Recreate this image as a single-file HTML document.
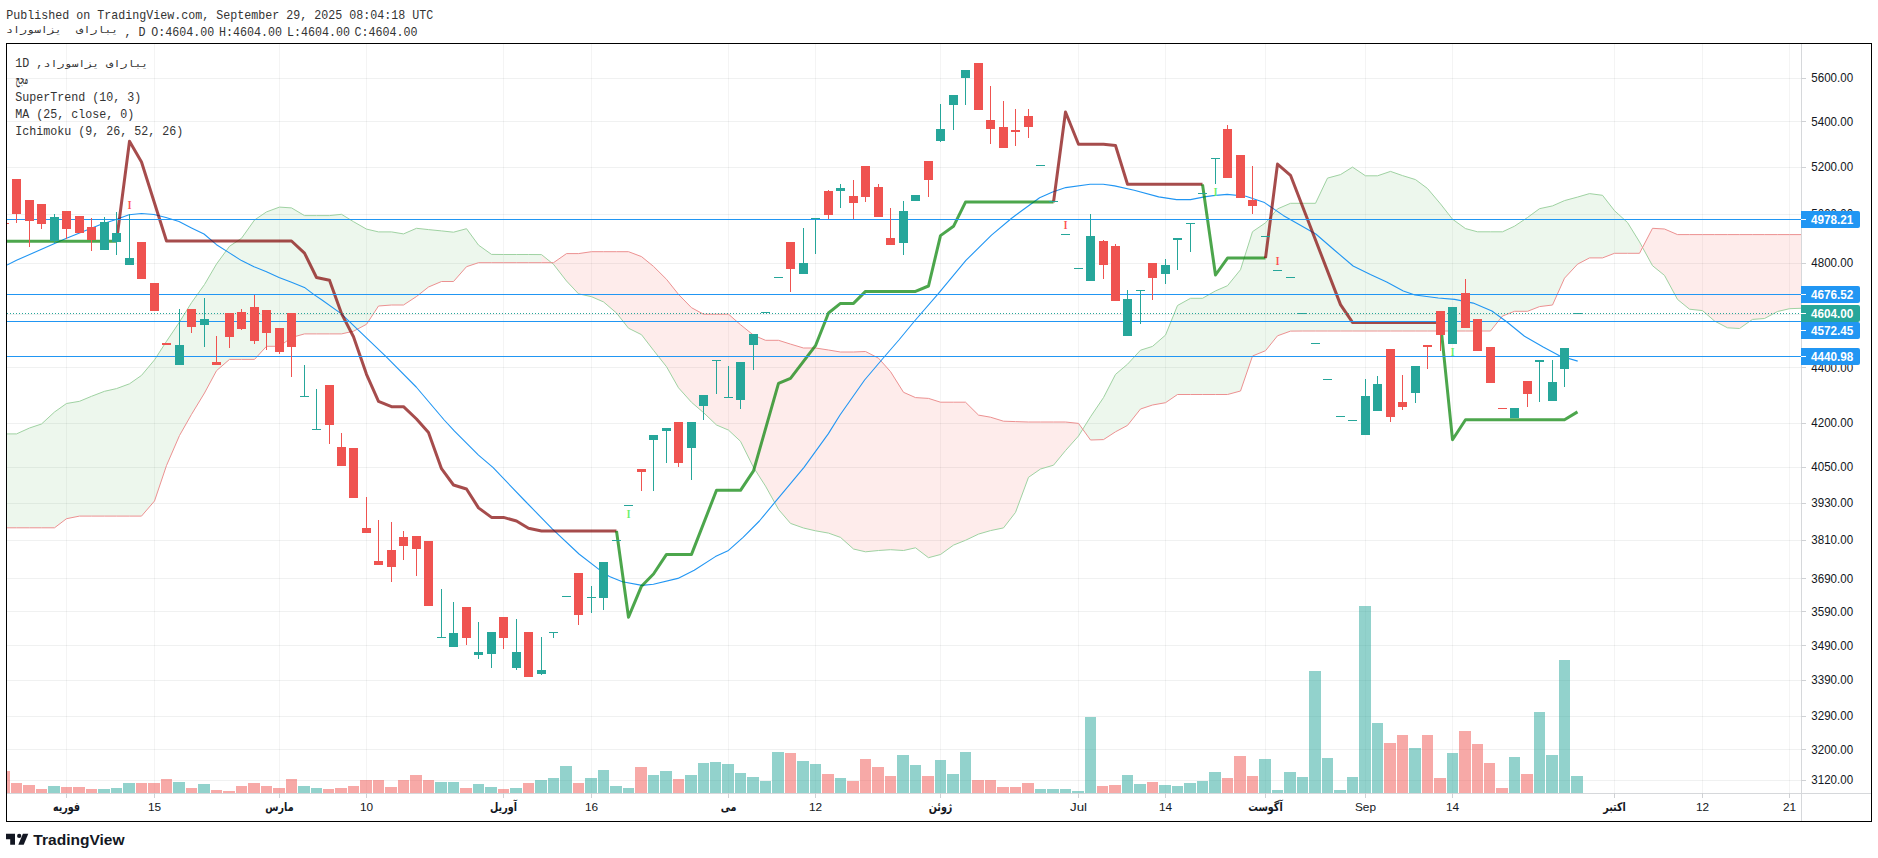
<!DOCTYPE html>
<html lang="fa"><head><meta charset="utf-8"><title>TradingView chart</title><style>html,body{margin:0;padding:0;background:#fff}body{width:1878px;height:858px;overflow:hidden;position:relative}</style></head><body>
<svg width="1878" height="858" viewBox="0 0 1878 858" style="position:absolute;left:0;top:0">
<defs><clipPath id="cp"><rect x="7" y="44" width="1794" height="749"/></clipPath></defs>
<rect x="0" y="0" width="1878" height="858" fill="#fff"/>
<path d="M66.5 44V793M154.5 44V793M279.5 44V793M366.5 44V793M503.5 44V793M591.5 44V793M728.5 44V793M815.5 44V793M940.5 44V793M1078.5 44V793M1165.5 44V793M1265.5 44V793M1365.5 44V793M1452.5 44V793M1614.5 44V793M1702.5 44V793M1789.5 44V793" stroke="rgb(30,45,40)" stroke-opacity="0.05" stroke-width="1" fill="none" shape-rendering="crispEdges"/>
<path d="M7 78.5H1801M7 121.5H1801M7 167.5H1801M7 214.5H1801M7 263.5H1801M7 314.5H1801M7 367.5H1801M7 423.5H1801M7 467.5H1801M7 503.5H1801M7 540.5H1801M7 578.5H1801M7 611.5H1801M7 645.5H1801M7 680.5H1801M7 716.5H1801M7 749.5H1801M7 780.5H1801" stroke="rgb(30,45,40)" stroke-opacity="0.065" stroke-width="1" fill="none" shape-rendering="crispEdges"/>
<g clip-path="url(#cp)">
<path d="M11 783h11v10h-11zM23 785h12v8h-12zM36 789h11v4h-11zM61 787h11v6h-11zM73 787h12v6h-12zM86 789h11v4h-11zM136 783h11v10h-11zM148 783h12v10h-12zM161 779h11v14h-11zM186 788h11v5h-11zM211 790h11v3h-11zM223 791h12v2h-12zM236 786h11v7h-11zM248 783h12v10h-12zM261 786h11v7h-11zM273 788h12v5h-12zM286 779h11v14h-11zM323 789h11v4h-11zM335 788h12v5h-12zM348 786h11v7h-11zM360 780h12v13h-12zM373 780h11v13h-11zM385 787h12v6h-12zM398 780h11v13h-11zM410 775h12v18h-12zM423 780h11v13h-11zM460 788h12v5h-12zM498 789h11v4h-11zM523 783h11v10h-11zM573 783h11v10h-11zM635 767h12v26h-12zM673 779h11v14h-11zM785 753h11v40h-11zM822 774h12v19h-12zM847 781h12v12h-12zM860 759h11v34h-11zM872 767h12v26h-12zM885 776h11v17h-11zM922 776h12v17h-12zM972 780h12v13h-12zM985 780h11v13h-11zM997 787h12v6h-12zM1010 787h11v6h-11zM1022 783h12v10h-12zM1097 786h11v7h-11zM1109 785h12v8h-12zM1147 782h11v11h-11zM1222 778h11v15h-11zM1234 756h12v37h-12zM1247 776h11v17h-11zM1384 743h12v50h-12zM1397 735h11v58h-11zM1422 735h11v58h-11zM1434 778h12v15h-12zM1459 731h12v62h-12zM1472 744h11v49h-11zM1484 763h11v30h-11zM1496 788h12v5h-12zM1521 774h12v19h-12zM7 771h3v22h-3z" fill="#ef5350" fill-opacity="0.5" shape-rendering="crispEdges"/>
<path d="M48 786h12v7h-12zM98 789h12v4h-12zM111 788h11v5h-11zM123 783h12v10h-12zM173 782h12v11h-12zM198 784h12v9h-12zM298 786h12v7h-12zM311 788h11v5h-11zM435 782h12v11h-12zM448 782h11v11h-11zM473 784h11v9h-11zM485 787h12v6h-12zM510 788h12v5h-12zM535 780h12v13h-12zM548 778h11v15h-11zM560 766h12v27h-12zM585 778h12v15h-12zM598 770h11v23h-11zM610 786h12v7h-12zM623 788h11v5h-11zM648 775h11v18h-11zM660 771h12v22h-12zM685 775h12v18h-12zM698 763h11v30h-11zM710 762h11v31h-11zM722 764h12v29h-12zM735 773h11v20h-11zM747 777h12v16h-12zM760 781h11v12h-11zM772 752h12v41h-12zM797 761h12v32h-12zM810 764h11v29h-11zM835 778h11v15h-11zM897 755h12v38h-12zM910 765h11v28h-11zM935 760h11v33h-11zM947 774h12v19h-12zM960 752h11v41h-11zM1035 789h11v4h-11zM1047 789h12v4h-12zM1060 789h11v4h-11zM1072 791h12v2h-12zM1085 717h11v76h-11zM1122 775h11v18h-11zM1134 784h12v9h-12zM1159 785h12v8h-12zM1172 786h11v7h-11zM1184 783h12v10h-12zM1197 781h11v12h-11zM1209 772h12v21h-12zM1259 759h12v34h-12zM1272 790h11v3h-11zM1284 772h12v21h-12zM1297 777h11v16h-11zM1309 671h12v122h-12zM1322 758h11v35h-11zM1334 790h12v3h-12zM1347 777h11v16h-11zM1359 606h12v187h-12zM1372 723h11v70h-11zM1409 748h12v45h-12zM1447 753h11v40h-11zM1509 757h11v36h-11zM1534 712h11v81h-11zM1546 755h12v38h-12zM1559 660h11v133h-11zM1571 776h12v17h-12z" fill="#26a69a" fill-opacity="0.5" shape-rendering="crispEdges"/>
<path d="M7.0 433.9L16.5 433.9L16.5 527.8L7.0 527.8zM16.5 433.9L29.5 428.0L29.5 527.8L16.5 527.8zM29.5 428.0L41.5 424.0L41.5 527.8L29.5 527.8zM41.5 424.0L54.5 412.0L54.5 527.8L41.5 527.8zM54.5 412.0L66.5 403.5L66.5 518.7L54.5 527.8zM66.5 403.5L79.5 401.3L79.5 516.1L66.5 518.7zM79.5 401.3L91.5 396.3L91.5 516.1L79.5 516.1zM91.5 396.3L104.5 391.3L104.5 516.1L91.5 516.1zM104.5 391.3L116.5 388.6L116.5 516.1L104.5 516.1zM116.5 388.6L129.5 383.8L129.5 516.1L116.5 516.1zM129.5 383.8L141.5 375.4L141.5 516.1L129.5 516.1zM141.5 375.4L154.5 359.9L154.5 501.0L141.5 516.1zM154.5 359.9L166.5 341.3L166.5 465.5L154.5 501.0zM166.5 341.3L179.5 322.0L179.5 435.5L166.5 465.5zM179.5 322.0L191.5 302.7L191.5 414.4L179.5 435.5zM191.5 302.7L204.5 284.5L204.5 393.0L191.5 414.4zM204.5 284.5L216.5 264.0L216.5 370.7L204.5 393.0zM216.5 264.0L229.5 246.3L229.5 359.4L216.5 370.7zM229.5 246.3L241.5 238.3L241.5 359.4L229.5 359.4zM241.5 238.3L254.5 220.0L254.5 359.4L241.5 359.4zM254.5 220.0L266.5 211.9L266.5 346.3L254.5 359.4zM266.5 211.9L279.5 207.1L279.5 346.3L266.5 346.3zM279.5 207.1L291.5 207.9L291.5 337.5L279.5 346.3zM291.5 207.9L304.5 215.6L304.5 333.9L291.5 337.5zM304.5 215.6L316.5 215.6L316.5 333.9L304.5 333.9zM316.5 215.6L329.5 215.6L329.5 333.9L316.5 333.9zM329.5 215.6L341.5 214.3L341.5 333.9L329.5 333.9zM341.5 214.3L353.5 221.7L353.5 331.2L341.5 333.9zM353.5 221.7L366.5 229.1L366.5 324.3L353.5 331.2zM366.5 229.1L378.5 231.9L378.5 306.0L366.5 324.3zM378.5 231.9L391.5 231.9L391.5 305.0L378.5 306.0zM391.5 231.9L403.5 233.9L403.5 305.0L391.5 305.0zM403.5 233.9L416.5 228.3L416.5 296.5L403.5 305.0zM416.5 228.3L428.5 229.6L428.5 287.0L416.5 296.5zM428.5 229.6L441.5 230.9L441.5 281.5L428.5 287.0zM441.5 230.9L453.5 232.2L453.5 281.5L441.5 281.5zM453.5 232.2L466.5 228.7L466.5 266.7L453.5 281.5zM466.5 228.7L478.5 245.1L478.5 262.7L466.5 266.7zM478.5 245.1L491.5 254.4L491.5 262.7L478.5 262.7zM491.5 254.4L503.5 254.5L503.5 262.7L491.5 262.7zM503.5 254.5L516.5 254.5L516.5 262.7L503.5 262.7zM516.5 254.5L528.5 254.5L528.5 262.7L516.5 262.7zM528.5 254.5L541.5 254.6L541.5 262.7L528.5 262.7zM1078.5 436.0L1090.5 416.8L1090.5 440.0L1078.5 423.4zM1090.5 416.8L1103.5 397.6L1103.5 439.6L1090.5 440.0zM1103.5 397.6L1115.5 374.4L1115.5 431.8L1103.5 439.6zM1115.5 374.4L1127.5 364.2L1127.5 425.4L1115.5 431.8zM1127.5 364.2L1140.5 350.2L1140.5 409.0L1127.5 425.4zM1140.5 350.2L1152.5 346.4L1152.5 405.0L1140.5 409.0zM1152.5 346.4L1165.5 335.1L1165.5 402.7L1152.5 405.0zM1165.5 335.1L1177.5 305.5L1177.5 394.5L1165.5 402.7zM1177.5 305.5L1190.5 298.3L1190.5 394.5L1177.5 394.5zM1190.5 298.3L1202.5 298.3L1202.5 394.5L1190.5 394.5zM1202.5 298.3L1215.5 290.9L1215.5 394.5L1202.5 394.5zM1215.5 290.9L1227.5 285.7L1227.5 394.5L1215.5 394.5zM1227.5 285.7L1240.5 269.7L1240.5 391.0L1227.5 394.5zM1240.5 269.7L1252.5 231.7L1252.5 356.0L1240.5 391.0zM1252.5 231.7L1265.5 222.8L1265.5 350.7L1252.5 356.0zM1265.5 222.8L1277.5 208.9L1277.5 335.8L1265.5 350.7zM1277.5 208.9L1290.5 203.3L1290.5 331.1L1277.5 335.8zM1290.5 203.3L1302.5 203.3L1302.5 331.0L1290.5 331.1zM1302.5 203.3L1315.5 203.3L1315.5 331.0L1302.5 331.0zM1315.5 203.3L1327.5 178.1L1327.5 331.0L1315.5 331.0zM1327.5 178.1L1340.5 174.6L1340.5 331.0L1327.5 331.0zM1340.5 174.6L1352.5 167.1L1352.5 331.0L1340.5 331.0zM1352.5 167.1L1365.5 175.8L1365.5 331.0L1352.5 331.0zM1365.5 175.8L1377.5 175.8L1377.5 331.0L1365.5 331.0zM1377.5 175.8L1390.5 171.4L1390.5 331.0L1377.5 331.0zM1390.5 171.4L1402.5 175.6L1402.5 331.0L1390.5 331.0zM1402.5 175.6L1415.5 179.6L1415.5 331.0L1402.5 331.0zM1415.5 179.6L1427.5 188.5L1427.5 331.0L1415.5 331.0zM1427.5 188.5L1440.5 203.9L1440.5 331.0L1427.5 331.0zM1440.5 203.9L1452.5 219.2L1452.5 331.0L1440.5 331.0zM1452.5 219.2L1465.5 228.6L1465.5 331.0L1452.5 331.0zM1465.5 228.6L1477.5 231.8L1477.5 331.0L1465.5 331.0zM1477.5 231.8L1490.5 231.8L1490.5 331.0L1477.5 331.0zM1490.5 231.8L1502.5 231.8L1502.5 316.0L1490.5 331.0zM1502.5 231.8L1514.5 226.2L1514.5 311.3L1502.5 316.0zM1514.5 226.2L1527.5 217.5L1527.5 311.3L1514.5 311.3zM1527.5 217.5L1539.5 208.7L1539.5 306.6L1527.5 311.3zM1539.5 208.7L1552.5 205.9L1552.5 305.0L1539.5 306.6zM1552.5 205.9L1564.5 200.6L1564.5 278.2L1552.5 305.0zM1564.5 200.6L1577.5 197.1L1577.5 264.2L1564.5 278.2zM1577.5 197.1L1589.5 193.6L1589.5 257.9L1577.5 264.2zM1589.5 193.6L1602.5 195.3L1602.5 257.9L1589.5 257.9zM1602.5 195.3L1614.5 210.7L1614.5 253.3L1602.5 257.9zM1614.5 210.7L1627.5 222.5L1627.5 253.3L1614.5 253.3zM1627.5 222.5L1639.5 241.9L1639.5 253.3L1627.5 253.3z" fill="#4caf50" fill-opacity="0.1" stroke="none"/>
<path d="M541.5 254.6L553.5 264.3L553.5 262.7L541.5 262.7zM553.5 264.3L566.5 281.0L566.5 253.6L553.5 262.7zM566.5 281.0L578.5 293.8L578.5 253.6L566.5 253.6zM578.5 293.8L591.5 296.7L591.5 251.7L578.5 253.6zM591.5 296.7L603.5 301.9L603.5 251.7L591.5 251.7zM603.5 301.9L616.5 313.0L616.5 251.7L603.5 251.7zM616.5 313.0L628.5 328.2L628.5 251.7L616.5 251.7zM628.5 328.2L641.5 334.7L641.5 256.6L628.5 251.7zM641.5 334.7L653.5 350.3L653.5 266.4L641.5 256.6zM653.5 350.3L666.5 366.7L666.5 279.3L653.5 266.4zM666.5 366.7L678.5 387.8L678.5 294.4L666.5 279.3zM678.5 387.8L691.5 402.3L691.5 307.7L678.5 294.4zM691.5 402.3L703.5 412.6L703.5 314.2L691.5 307.7zM703.5 412.6L716.5 425.0L716.5 314.2L703.5 314.2zM716.5 425.0L728.5 430.1L728.5 314.2L716.5 314.2zM728.5 430.1L740.5 441.3L740.5 324.7L728.5 314.2zM740.5 441.3L753.5 467.4L753.5 335.2L740.5 324.7zM753.5 467.4L765.5 486.1L765.5 340.3L753.5 335.2zM765.5 486.1L778.5 509.4L778.5 340.3L765.5 340.3zM778.5 509.4L790.5 523.4L790.5 344.1L778.5 340.3zM790.5 523.4L803.5 528.0L803.5 348.0L790.5 344.1zM803.5 528.0L815.5 530.8L815.5 348.0L803.5 348.0zM815.5 530.8L828.5 533.1L828.5 350.0L815.5 348.0zM828.5 533.1L840.5 537.4L840.5 352.0L828.5 350.0zM840.5 537.4L853.5 549.0L853.5 352.0L840.5 352.0zM853.5 549.0L865.5 551.8L865.5 351.5L853.5 352.0zM865.5 551.8L878.5 550.5L878.5 358.2L865.5 351.5zM878.5 550.5L890.5 549.7L890.5 371.6L878.5 358.2zM890.5 549.7L903.5 550.5L903.5 392.3L890.5 371.6zM903.5 550.5L915.5 547.8L915.5 397.6L903.5 392.3zM915.5 547.8L928.5 557.7L928.5 398.4L915.5 397.6zM928.5 557.7L940.5 554.5L940.5 402.2L928.5 398.4zM940.5 554.5L953.5 545.1L953.5 402.2L940.5 402.2zM953.5 545.1L965.5 540.3L965.5 402.2L953.5 402.2zM965.5 540.3L978.5 534.1L978.5 415.1L965.5 402.2zM978.5 534.1L990.5 530.6L990.5 417.2L978.5 415.1zM990.5 530.6L1003.5 527.9L1003.5 421.2L990.5 417.2zM1003.5 527.9L1015.5 512.4L1015.5 421.6L1003.5 421.2zM1015.5 512.4L1028.5 477.3L1028.5 422.0L1015.5 421.6zM1028.5 477.3L1040.5 469.0L1040.5 422.0L1028.5 422.0zM1040.5 469.0L1053.5 465.2L1053.5 422.0L1040.5 422.0zM1053.5 465.2L1065.5 450.6L1065.5 422.0L1053.5 422.0zM1065.5 450.6L1078.5 436.0L1078.5 423.4L1065.5 422.0zM1639.5 241.9L1652.5 265.7L1652.5 228.3L1639.5 253.3zM1652.5 265.7L1664.5 275.4L1664.5 229.0L1652.5 228.3zM1664.5 275.4L1677.5 299.4L1677.5 234.6L1664.5 229.0zM1677.5 299.4L1689.5 309.2L1689.5 234.6L1677.5 234.6zM1689.5 309.2L1702.5 310.6L1702.5 234.6L1689.5 234.6zM1702.5 310.6L1714.5 321.0L1714.5 234.6L1702.5 234.6zM1714.5 321.0L1727.5 327.8L1727.5 234.6L1714.5 234.6zM1727.5 327.8L1739.5 328.5L1739.5 234.6L1727.5 234.6zM1739.5 328.5L1752.5 319.4L1752.5 234.6L1739.5 234.6zM1752.5 319.4L1764.5 318.5L1764.5 234.6L1752.5 234.6zM1764.5 318.5L1777.5 311.5L1777.5 234.6L1764.5 234.6zM1777.5 311.5L1789.5 308.7L1789.5 234.6L1777.5 234.6zM1789.5 308.7L1802.5 308.2L1802.5 234.6L1789.5 234.6z" fill="#f44336" fill-opacity="0.1" stroke="none"/>
<path d="M7.0 433.9L16.5 433.9L29.5 428.0L41.5 424.0L54.5 412.0L66.5 403.5L79.5 401.3L91.5 396.3L104.5 391.3L116.5 388.6L129.5 383.8L141.5 375.4L154.5 359.9L166.5 341.3L179.5 322.0L191.5 302.7L204.5 284.5L216.5 264.0L229.5 246.3L241.5 238.3L254.5 220.0L266.5 211.9L279.5 207.1L291.5 207.9L304.5 215.6L316.5 215.6L329.5 215.6L341.5 214.3L353.5 221.7L366.5 229.1L378.5 231.9L391.5 231.9L403.5 233.9L416.5 228.3L428.5 229.6L441.5 230.9L453.5 232.2L466.5 228.7L478.5 245.1L491.5 254.4L503.5 254.5L516.5 254.5L528.5 254.5L541.5 254.6L553.5 264.3L566.5 281.0L578.5 293.8L591.5 296.7L603.5 301.9L616.5 313.0L628.5 328.2L641.5 334.7L653.5 350.3L666.5 366.7L678.5 387.8L691.5 402.3L703.5 412.6L716.5 425.0L728.5 430.1L740.5 441.3L753.5 467.4L765.5 486.1L778.5 509.4L790.5 523.4L803.5 528.0L815.5 530.8L828.5 533.1L840.5 537.4L853.5 549.0L865.5 551.8L878.5 550.5L890.5 549.7L903.5 550.5L915.5 547.8L928.5 557.7L940.5 554.5L953.5 545.1L965.5 540.3L978.5 534.1L990.5 530.6L1003.5 527.9L1015.5 512.4L1028.5 477.3L1040.5 469.0L1053.5 465.2L1065.5 450.6L1078.5 436.0L1090.5 416.8L1103.5 397.6L1115.5 374.4L1127.5 364.2L1140.5 350.2L1152.5 346.4L1165.5 335.1L1177.5 305.5L1190.5 298.3L1202.5 298.3L1215.5 290.9L1227.5 285.7L1240.5 269.7L1252.5 231.7L1265.5 222.8L1277.5 208.9L1290.5 203.3L1302.5 203.3L1315.5 203.3L1327.5 178.1L1340.5 174.6L1352.5 167.1L1365.5 175.8L1377.5 175.8L1390.5 171.4L1402.5 175.6L1415.5 179.6L1427.5 188.5L1440.5 203.9L1452.5 219.2L1465.5 228.6L1477.5 231.8L1490.5 231.8L1502.5 231.8L1514.5 226.2L1527.5 217.5L1539.5 208.7L1552.5 205.9L1564.5 200.6L1577.5 197.1L1589.5 193.6L1602.5 195.3L1614.5 210.7L1627.5 222.5L1639.5 241.9L1652.5 265.7L1664.5 275.4L1677.5 299.4L1689.5 309.2L1702.5 310.6L1714.5 321.0L1727.5 327.8L1739.5 328.5L1752.5 319.4L1764.5 318.5L1777.5 311.5L1789.5 308.7L1802.5 308.2" stroke="#9fd2a2" stroke-width="1" fill="none"/>
<path d="M7.0 527.8L16.5 527.8L29.5 527.8L41.5 527.8L54.5 527.8L66.5 518.7L79.5 516.1L91.5 516.1L104.5 516.1L116.5 516.1L129.5 516.1L141.5 516.1L154.5 501.0L166.5 465.5L179.5 435.5L191.5 414.4L204.5 393.0L216.5 370.7L229.5 359.4L241.5 359.4L254.5 359.4L266.5 346.3L279.5 346.3L291.5 337.5L304.5 333.9L316.5 333.9L329.5 333.9L341.5 333.9L353.5 331.2L366.5 324.3L378.5 306.0L391.5 305.0L403.5 305.0L416.5 296.5L428.5 287.0L441.5 281.5L453.5 281.5L466.5 266.7L478.5 262.7L491.5 262.7L503.5 262.7L516.5 262.7L528.5 262.7L541.5 262.7L553.5 262.7L566.5 253.6L578.5 253.6L591.5 251.7L603.5 251.7L616.5 251.7L628.5 251.7L641.5 256.6L653.5 266.4L666.5 279.3L678.5 294.4L691.5 307.7L703.5 314.2L716.5 314.2L728.5 314.2L740.5 324.7L753.5 335.2L765.5 340.3L778.5 340.3L790.5 344.1L803.5 348.0L815.5 348.0L828.5 350.0L840.5 352.0L853.5 352.0L865.5 351.5L878.5 358.2L890.5 371.6L903.5 392.3L915.5 397.6L928.5 398.4L940.5 402.2L953.5 402.2L965.5 402.2L978.5 415.1L990.5 417.2L1003.5 421.2L1015.5 421.6L1028.5 422.0L1040.5 422.0L1053.5 422.0L1065.5 422.0L1078.5 423.4L1090.5 440.0L1103.5 439.6L1115.5 431.8L1127.5 425.4L1140.5 409.0L1152.5 405.0L1165.5 402.7L1177.5 394.5L1190.5 394.5L1202.5 394.5L1215.5 394.5L1227.5 394.5L1240.5 391.0L1252.5 356.0L1265.5 350.7L1277.5 335.8L1290.5 331.1L1302.5 331.0L1315.5 331.0L1327.5 331.0L1340.5 331.0L1352.5 331.0L1365.5 331.0L1377.5 331.0L1390.5 331.0L1402.5 331.0L1415.5 331.0L1427.5 331.0L1440.5 331.0L1452.5 331.0L1465.5 331.0L1477.5 331.0L1490.5 331.0L1502.5 316.0L1514.5 311.3L1527.5 311.3L1539.5 306.6L1552.5 305.0L1564.5 278.2L1577.5 264.2L1589.5 257.9L1602.5 257.9L1614.5 253.3L1627.5 253.3L1639.5 253.3L1652.5 228.3L1664.5 229.0L1677.5 234.6L1689.5 234.6L1702.5 234.6L1714.5 234.6L1727.5 234.6L1739.5 234.6L1752.5 234.6L1764.5 234.6L1777.5 234.6L1789.5 234.6L1802.5 234.6" stroke="#ec9191" stroke-width="1" fill="none"/>
<path d="M7.0 265.0L16.5 260.3L66.5 238.3L100.0 224.7L116.0 219.4L129.0 214.8L141.5 213.5L154.0 214.5L166.0 217.5L179.0 221.5L191.5 227.9L204.0 234.0L216.5 244.7L229.0 252.6L241.5 260.6L254.0 266.7L266.5 271.8L279.0 277.4L291.5 282.2L304.4 287.4L314.0 294.6L322.0 300.0L341.1 313.6L385.8 356.4L416.2 387.0L444.2 420.0L454.5 431.2L478.5 455.1L492.9 467.4L524.1 500.0L552.0 528.6L579.0 554.0L599.6 569.9L609.4 576.5L622.4 581.8L642.0 585.4L653.4 584.3L677.9 578.4L694.2 570.3L715.4 556.6L728.5 550.4L743.1 537.3L759.4 521.0L774.8 502.4L804.0 467.4L828.4 433.6L840.0 415.0L864.6 380.0L882.0 359.5L898.9 340.0L914.6 321.0L937.9 294.2L965.9 260.4L991.5 235.2L1011.3 218.5L1020.0 212.0L1039.6 197.7L1052.6 192.0L1065.7 187.6L1090.1 184.3L1103.2 184.3L1114.6 185.9L1134.2 190.3L1158.7 196.9L1176.6 199.6L1190.5 199.6L1204.3 196.9L1213.2 195.6L1227.2 194.4L1245.9 196.3L1264.5 202.6L1283.2 215.4L1315.8 234.0L1334.3 250.0L1353.1 266.0L1370.4 274.5L1386.7 281.9L1403.3 291.0L1415.0 295.0L1438.3 298.0L1454.6 299.4L1473.2 303.1L1491.9 311.0L1507.0 322.0L1524.5 336.2L1543.2 347.1L1559.5 355.7L1577.7 361.1" stroke="#2196f3" stroke-width="1.1" fill="none" stroke-linejoin="round"/>
<path d="M7.0 241.2L116.5 241.2" stroke="rgba(0,128,0,0.7)" stroke-width="3" fill="none" stroke-linejoin="round" stroke-linecap="butt"/>
<path d="M116.5 241.2L129.5 141.3L141.5 162.0L166.5 241.0L291.5 241.0L304.5 253.1L316.5 277.5L329.5 280.3L341.5 313.6L353.5 336.7L366.5 374.3L378.5 401.4L391.5 406.7L403.5 406.7L416.5 419.0L428.5 432.5L441.5 468.7L453.5 485.0L466.5 489.0L478.5 507.9L491.5 517.4L503.5 517.4L516.5 521.0L528.5 528.3L541.5 531.0L616.5 531.0" stroke="rgba(128,0,0,0.7)" stroke-width="3" fill="none" stroke-linejoin="round" stroke-linecap="butt"/>
<path d="M616.5 531.0L628.5 617.2L641.5 586.2L653.5 574.0L666.5 554.4L691.5 554.4L716.5 490.3L740.5 490.3L753.5 470.9L778.5 383.4L790.5 378.3L815.5 345.7L828.5 313.0L840.5 303.4L853.5 303.4L865.5 291.4L915.5 291.4L928.5 286.0L940.5 235.6L953.5 226.3L965.5 202.1L1053.5 202.1" stroke="rgba(0,128,0,0.7)" stroke-width="3" fill="none" stroke-linejoin="round" stroke-linecap="butt"/>
<path d="M1053.5 202.2L1065.5 112.0L1078.5 144.3L1103.5 144.3L1115.5 145.5L1127.5 184.3L1202.5 184.3" stroke="rgba(128,0,0,0.7)" stroke-width="3" fill="none" stroke-linejoin="round" stroke-linecap="butt"/>
<path d="M1202.5 184.4L1215.5 275.0L1227.5 258.1L1265.5 258.1" stroke="rgba(0,128,0,0.7)" stroke-width="3" fill="none" stroke-linejoin="round" stroke-linecap="butt"/>
<path d="M1265.5 258.1L1277.5 164.1L1290.5 175.3L1340.5 304.6L1352.5 322.4L1440.5 322.4" stroke="rgba(128,0,0,0.7)" stroke-width="3" fill="none" stroke-linejoin="round" stroke-linecap="butt"/>
<path d="M1440.5 322.4L1452.5 439.7L1465.5 419.8L1564.5 419.8L1577.5 411.9" stroke="rgba(0,128,0,0.7)" stroke-width="3" fill="none" stroke-linejoin="round" stroke-linecap="butt"/>
<path d="M7 219.5H1801" stroke="#2196f3" stroke-width="1" shape-rendering="crispEdges"/>
<path d="M7 294.5H1801" stroke="#2196f3" stroke-width="1" shape-rendering="crispEdges"/>
<path d="M7 321.5H1801" stroke="#2196f3" stroke-width="1" shape-rendering="crispEdges"/>
<path d="M7 356.5H1801" stroke="#2196f3" stroke-width="1" shape-rendering="crispEdges"/>
<path d="M7 313.5H1801" stroke="#26a69a" stroke-width="1" stroke-dasharray="1 2" shape-rendering="crispEdges"/>
<path d="M16 179h1v44h-1zM29 200h1v47h-1zM41 204h1v25h-1zM66 211h1v28h-1zM91 218h1v33h-1zM191 309h1v24h-1zM216 336h1v29h-1zM229 313h1v35h-1zM241 309h1v21h-1zM254 295h1v49h-1zM266 310h1v40h-1zM279 328h1v26h-1zM291 313h1v64h-1zM329 385h1v59h-1zM341 433h1v33h-1zM366 497h1v36h-1zM378 520h1v45h-1zM391 522h1v60h-1zM403 531h1v29h-1zM416 536h1v40h-1zM466 607h1v38h-1zM503 617h1v32h-1zM578 573h1v52h-1zM641 469h1v22h-1zM678 422h1v45h-1zM790 242h1v50h-1zM828 190h1v29h-1zM853 180h1v39h-1zM865 166h1v36h-1zM878 184h1v33h-1zM890 208h1v37h-1zM928 161h1v36h-1zM990 86h1v58h-1zM1003 101h1v47h-1zM1015 109h1v37h-1zM1028 109h1v29h-1zM1103 240h1v39h-1zM1115 244h1v57h-1zM1152 263h1v37h-1zM1227 125h1v53h-1zM1252 166h1v48h-1zM1390 349h1v73h-1zM1402 375h1v35h-1zM1427 345h1v24h-1zM1440 311h1v40h-1zM1465 279h1v49h-1zM1527 381h1v26h-1zM12 179h9v35h-9zM25 200h9v21h-9zM37 204h9v20h-9zM62 211h9v18h-9zM75 216h9v17h-9zM87 227h9v13h-9zM137 242h9v37h-9zM150 283h9v28h-9zM162 343h9v2h-9zM187 309h9v18h-9zM212 362h9v3h-9zM225 313h9v24h-9zM237 312h9v17h-9zM250 307h9v34h-9zM262 310h9v23h-9zM275 328h9v24h-9zM287 313h9v34h-9zM325 385h9v40h-9zM337 447h9v19h-9zM349 448h9v50h-9zM362 528h9v5h-9zM374 561h9v4h-9zM387 550h9v17h-9zM399 537h9v9h-9zM412 536h9v13h-9zM424 541h9v65h-9zM462 607h9v31h-9zM499 617h9v21h-9zM524 632h9v45h-9zM574 573h9v42h-9zM637 469h9v3h-9zM674 422h9v41h-9zM786 242h9v27h-9zM824 191h9v24h-9zM849 196h9v7h-9zM861 166h9v31h-9zM874 187h9v30h-9zM886 238h9v7h-9zM924 161h9v19h-9zM974 63h9v47h-9zM986 120h9v9h-9zM999 127h9v21h-9zM1011 130h9v2h-9zM1024 116h9v11h-9zM1099 241h9v24h-9zM1111 246h9v55h-9zM1148 263h9v15h-9zM1223 129h9v49h-9zM1236 155h9v43h-9zM1248 200h9v6h-9zM1386 349h9v68h-9zM1398 402h9v5h-9zM1423 345h9v2h-9zM1436 311h9v24h-9zM1461 293h9v35h-9zM1473 319h9v32h-9zM1486 347h9v36h-9zM1498 408h9v1h-9zM1523 381h9v13h-9zM7 223h2v1h-2z" fill="#ef5350" shape-rendering="crispEdges"/>
<path d="M54 214h1v29h-1zM104 217h1v33h-1zM116 212h1v43h-1zM129 214h1v51h-1zM179 309h1v56h-1zM204 298h1v49h-1zM304 365h1v32h-1zM316 389h1v41h-1zM441 589h1v49h-1zM453 602h1v45h-1zM478 622h1v37h-1zM491 632h1v36h-1zM516 619h1v51h-1zM541 637h1v38h-1zM553 632h1v6h-1zM591 586h1v27h-1zM603 562h1v48h-1zM653 435h1v56h-1zM666 428h1v35h-1zM691 422h1v58h-1zM703 395h1v25h-1zM716 360h1v34h-1zM728 366h1v32h-1zM740 362h1v47h-1zM753 334h1v36h-1zM803 228h1v46h-1zM815 218h1v36h-1zM840 184h1v24h-1zM903 201h1v54h-1zM940 104h1v38h-1zM953 95h1v35h-1zM965 70h1v35h-1zM1090 214h1v67h-1zM1127 290h1v46h-1zM1140 290h1v34h-1zM1165 259h1v25h-1zM1177 238h1v32h-1zM1190 223h1v29h-1zM1215 158h1v26h-1zM1365 379h1v56h-1zM1377 376h1v35h-1zM1415 366h1v37h-1zM1539 360h1v42h-1zM1552 360h1v41h-1zM1564 348h1v39h-1zM50 217h9v24h-9zM100 222h9v28h-9zM112 233h9v9h-9zM125 258h9v7h-9zM175 345h9v20h-9zM200 319h9v6h-9zM300 396h9v1h-9zM312 429h9v1h-9zM437 637h9v1h-9zM449 633h9v14h-9zM474 652h9v3h-9zM487 632h9v22h-9zM512 652h9v16h-9zM537 670h9v4h-9zM549 632h9v1h-9zM562 596h9v1h-9zM587 597h9v1h-9zM599 562h9v36h-9zM612 540h9v1h-9zM624 505h9v1h-9zM649 435h9v5h-9zM662 428h9v3h-9zM687 422h9v26h-9zM699 395h9v11h-9zM712 360h9v1h-9zM724 397h9v1h-9zM736 362h9v38h-9zM749 334h9v11h-9zM761 312h9v1h-9zM774 277h9v1h-9zM799 263h9v11h-9zM811 218h9v1h-9zM836 188h9v3h-9zM899 211h9v32h-9zM911 195h9v6h-9zM936 129h9v12h-9zM949 95h9v10h-9zM961 70h9v8h-9zM1036 165h9v1h-9zM1049 201h9v1h-9zM1061 234h9v1h-9zM1074 268h9v1h-9zM1086 236h9v45h-9zM1123 299h9v37h-9zM1136 290h9v1h-9zM1161 265h9v9h-9zM1173 238h9v2h-9zM1186 223h9v1h-9zM1198 193h9v1h-9zM1211 158h9v1h-9zM1261 236h9v1h-9zM1273 270h9v1h-9zM1286 277h9v1h-9zM1298 313h9v1h-9zM1311 343h9v1h-9zM1323 379h9v1h-9zM1336 416h9v1h-9zM1348 420h9v1h-9zM1361 396h9v39h-9zM1373 384h9v27h-9zM1411 366h9v27h-9zM1448 307h9v37h-9zM1510 408h9v10h-9zM1535 360h9v2h-9zM1548 382h9v19h-9zM1560 348h9v21h-9zM1573 313h9v1h-9z" fill="#26a69a" shape-rendering="crispEdges"/>
<text transform="translate(129.5,208.9) scale(0.82,1)" font-family="'Liberation Serif',serif" font-size="11.6" font-weight="bold" fill="#ff5252" text-anchor="middle">I</text>
<text transform="translate(1065.5,229.2) scale(0.82,1)" font-family="'Liberation Serif',serif" font-size="11.6" font-weight="bold" fill="#ff5252" text-anchor="middle">I</text>
<text transform="translate(1277.5,264.8) scale(0.82,1)" font-family="'Liberation Serif',serif" font-size="11.6" font-weight="bold" fill="#ff5252" text-anchor="middle">I</text>
<text transform="translate(628.5,518.4) scale(0.82,1)" font-family="'Liberation Serif',serif" font-size="11.6" font-weight="bold" fill="#69f069" text-anchor="middle">I</text>
<text transform="translate(1215.5,196.2) scale(0.82,1)" font-family="'Liberation Serif',serif" font-size="11.6" font-weight="bold" fill="#69f069" text-anchor="middle">I</text>
<text transform="translate(1452.5,356.2) scale(0.82,1)" font-family="'Liberation Serif',serif" font-size="11.6" font-weight="bold" fill="#69f069" text-anchor="middle">I</text>
</g>
<path d="M1801.5 44V821M7 793.5H1871" stroke="#d6d8db" stroke-width="1" shape-rendering="crispEdges" fill="none"/>
<text x="1811.3" y="81.9" font-family="'Liberation Sans',sans-serif" font-size="12.2" fill="#131722" textLength="41.8" lengthAdjust="spacingAndGlyphs">5600.00</text>
<text x="1811.3" y="125.9" font-family="'Liberation Sans',sans-serif" font-size="12.2" fill="#131722" textLength="41.8" lengthAdjust="spacingAndGlyphs">5400.00</text>
<text x="1811.3" y="170.9" font-family="'Liberation Sans',sans-serif" font-size="12.2" fill="#131722" textLength="41.8" lengthAdjust="spacingAndGlyphs">5200.00</text>
<text x="1811.3" y="217.9" font-family="'Liberation Sans',sans-serif" font-size="12.2" fill="#131722" textLength="41.8" lengthAdjust="spacingAndGlyphs">5000.00</text>
<text x="1811.3" y="266.9" font-family="'Liberation Sans',sans-serif" font-size="12.2" fill="#131722" textLength="41.8" lengthAdjust="spacingAndGlyphs">4800.00</text>
<text x="1811.3" y="371.9" font-family="'Liberation Sans',sans-serif" font-size="12.2" fill="#131722" textLength="41.8" lengthAdjust="spacingAndGlyphs">4400.00</text>
<text x="1811.3" y="426.9" font-family="'Liberation Sans',sans-serif" font-size="12.2" fill="#131722" textLength="41.8" lengthAdjust="spacingAndGlyphs">4200.00</text>
<text x="1811.3" y="470.9" font-family="'Liberation Sans',sans-serif" font-size="12.2" fill="#131722" textLength="41.8" lengthAdjust="spacingAndGlyphs">4050.00</text>
<text x="1811.3" y="506.9" font-family="'Liberation Sans',sans-serif" font-size="12.2" fill="#131722" textLength="41.8" lengthAdjust="spacingAndGlyphs">3930.00</text>
<text x="1811.3" y="543.9" font-family="'Liberation Sans',sans-serif" font-size="12.2" fill="#131722" textLength="41.8" lengthAdjust="spacingAndGlyphs">3810.00</text>
<text x="1811.3" y="582.9" font-family="'Liberation Sans',sans-serif" font-size="12.2" fill="#131722" textLength="41.8" lengthAdjust="spacingAndGlyphs">3690.00</text>
<text x="1811.3" y="615.9" font-family="'Liberation Sans',sans-serif" font-size="12.2" fill="#131722" textLength="41.8" lengthAdjust="spacingAndGlyphs">3590.00</text>
<text x="1811.3" y="649.9" font-family="'Liberation Sans',sans-serif" font-size="12.2" fill="#131722" textLength="41.8" lengthAdjust="spacingAndGlyphs">3490.00</text>
<text x="1811.3" y="683.9" font-family="'Liberation Sans',sans-serif" font-size="12.2" fill="#131722" textLength="41.8" lengthAdjust="spacingAndGlyphs">3390.00</text>
<text x="1811.3" y="719.9" font-family="'Liberation Sans',sans-serif" font-size="12.2" fill="#131722" textLength="41.8" lengthAdjust="spacingAndGlyphs">3290.00</text>
<text x="1811.3" y="753.9" font-family="'Liberation Sans',sans-serif" font-size="12.2" fill="#131722" textLength="41.8" lengthAdjust="spacingAndGlyphs">3200.00</text>
<text x="1811.3" y="783.9" font-family="'Liberation Sans',sans-serif" font-size="12.2" fill="#131722" textLength="41.8" lengthAdjust="spacingAndGlyphs">3120.00</text>
<path d="M1801 78.5h5M1801 121.5h5M1801 167.5h5M1801 214.5h5M1801 263.5h5M1801 367.5h5M1801 423.5h5M1801 467.5h5M1801 503.5h5M1801 540.5h5M1801 578.5h5M1801 611.5h5M1801 645.5h5M1801 680.5h5M1801 716.5h5M1801 749.5h5M1801 780.5h5M66.5 793v5M154.5 793v5M279.5 793v5M366.5 793v5M503.5 793v5M591.5 793v5M728.5 793v5M815.5 793v5M940.5 793v5M1078.5 793v5M1165.5 793v5M1265.5 793v5M1365.5 793v5M1452.5 793v5M1614.5 793v5M1702.5 793v5M1789.5 793v5" stroke="#cfd1d4" stroke-width="1" shape-rendering="crispEdges" fill="none"/>
<path d="M1801 211h57a2 2 0 0 1 2 2v13a2 2 0 0 1 -2 2h-57z" fill="#2196f3"/>
<path d="M1801 219.5h5" stroke="#fff" stroke-width="1" shape-rendering="crispEdges"/>
<text x="1811" y="223.8" font-family="'Liberation Sans',sans-serif" font-size="12.2" font-weight="bold" fill="#fff" textLength="42.3" lengthAdjust="spacingAndGlyphs">4978.21</text>
<path d="M1801 286h57a2 2 0 0 1 2 2v13a2 2 0 0 1 -2 2h-57z" fill="#2196f3"/>
<path d="M1801 294.5h5" stroke="#fff" stroke-width="1" shape-rendering="crispEdges"/>
<text x="1811" y="298.8" font-family="'Liberation Sans',sans-serif" font-size="12.2" font-weight="bold" fill="#fff" textLength="42.3" lengthAdjust="spacingAndGlyphs">4676.52</text>
<path d="M1801 305h57a2 2 0 0 1 2 2v13a2 2 0 0 1 -2 2h-57z" fill="#26a69a"/>
<path d="M1801 313.5h5" stroke="#fff" stroke-width="1" shape-rendering="crispEdges"/>
<text x="1811" y="317.8" font-family="'Liberation Sans',sans-serif" font-size="12.2" font-weight="bold" fill="#fff" textLength="42.3" lengthAdjust="spacingAndGlyphs">4604.00</text>
<path d="M1801 322h57a2 2 0 0 1 2 2v13a2 2 0 0 1 -2 2h-57z" fill="#2196f3"/>
<path d="M1801 330.5h5" stroke="#fff" stroke-width="1" shape-rendering="crispEdges"/>
<text x="1811" y="334.8" font-family="'Liberation Sans',sans-serif" font-size="12.2" font-weight="bold" fill="#fff" textLength="42.3" lengthAdjust="spacingAndGlyphs">4572.45</text>
<path d="M1801 348h57a2 2 0 0 1 2 2v13a2 2 0 0 1 -2 2h-57z" fill="#2196f3"/>
<path d="M1801 356.5h5" stroke="#fff" stroke-width="1" shape-rendering="crispEdges"/>
<text x="1811" y="360.8" font-family="'Liberation Sans',sans-serif" font-size="12.2" font-weight="bold" fill="#fff" textLength="42.3" lengthAdjust="spacingAndGlyphs">4440.98</text>
<text transform="translate(66.5,810.8) scale(0.8,1)" font-family="'Liberation Sans','DejaVu Sans',sans-serif" font-size="12" font-weight="bold" fill="#131722" text-anchor="middle" direction="rtl">فوریه</text>
<text x="154.5" y="811.2" font-family="'Liberation Sans',sans-serif" font-size="11.8" fill="#131722" text-anchor="middle">15</text>
<text transform="translate(279.5,810.8) scale(0.8,1)" font-family="'Liberation Sans','DejaVu Sans',sans-serif" font-size="12" font-weight="bold" fill="#131722" text-anchor="middle" direction="rtl">مارس</text>
<text x="366.5" y="811.2" font-family="'Liberation Sans',sans-serif" font-size="11.8" fill="#131722" text-anchor="middle">10</text>
<text transform="translate(503.5,810.8) scale(0.8,1)" font-family="'Liberation Sans','DejaVu Sans',sans-serif" font-size="12" font-weight="bold" fill="#131722" text-anchor="middle" direction="rtl">آوریل</text>
<text x="591.5" y="811.2" font-family="'Liberation Sans',sans-serif" font-size="11.8" fill="#131722" text-anchor="middle">16</text>
<text transform="translate(728.5,810.8) scale(0.8,1)" font-family="'Liberation Sans','DejaVu Sans',sans-serif" font-size="12" font-weight="bold" fill="#131722" text-anchor="middle" direction="rtl">می</text>
<text x="815.5" y="811.2" font-family="'Liberation Sans',sans-serif" font-size="11.8" fill="#131722" text-anchor="middle">12</text>
<text transform="translate(940.5,810.8) scale(0.8,1)" font-family="'Liberation Sans','DejaVu Sans',sans-serif" font-size="12" font-weight="bold" fill="#131722" text-anchor="middle" direction="rtl">ژوئن</text>
<text x="1078.5" y="811.2" font-family="'Liberation Sans',sans-serif" font-size="11.8" fill="#131722" text-anchor="middle" textLength="17" lengthAdjust="spacingAndGlyphs">Jul</text>
<text x="1165.5" y="811.2" font-family="'Liberation Sans',sans-serif" font-size="11.8" fill="#131722" text-anchor="middle">14</text>
<text transform="translate(1265.5,810.8) scale(0.8,1)" font-family="'Liberation Sans','DejaVu Sans',sans-serif" font-size="12" font-weight="bold" fill="#131722" text-anchor="middle" direction="rtl">آگوست</text>
<text x="1365.5" y="811.2" font-family="'Liberation Sans',sans-serif" font-size="11.8" fill="#131722" text-anchor="middle">Sep</text>
<text x="1452.5" y="811.2" font-family="'Liberation Sans',sans-serif" font-size="11.8" fill="#131722" text-anchor="middle">14</text>
<text transform="translate(1614.5,810.8) scale(0.8,1)" font-family="'Liberation Sans','DejaVu Sans',sans-serif" font-size="12" font-weight="bold" fill="#131722" text-anchor="middle" direction="rtl">اکتبر</text>
<text x="1702.5" y="811.2" font-family="'Liberation Sans',sans-serif" font-size="11.8" fill="#131722" text-anchor="middle">12</text>
<text x="1789.5" y="811.2" font-family="'Liberation Sans',sans-serif" font-size="11.8" fill="#131722" text-anchor="middle">21</text>
<rect x="6.5" y="43.5" width="1865" height="778" fill="none" stroke="#000" stroke-width="1" shape-rendering="crispEdges"/>
<text x="6.2" y="18.7" font-family="'Liberation Mono','DejaVu Sans Mono',monospace" font-size="12.7" fill="#333" textLength="427.0" lengthAdjust="spacingAndGlyphs" xml:space="preserve">Published on TradingView.com, September 29, 2025 08:04:18 UTC</text>
<text transform="translate(6,33.3) scale(1,0.82)" font-family="'DejaVu Sans Mono','Liberation Mono',monospace" font-size="11.6" fill="#333" direction="rtl" text-anchor="end">یزاسوراد</text>
<text transform="translate(76.5,33.3) scale(1,0.82)" font-family="'DejaVu Sans Mono','Liberation Mono',monospace" font-size="11.6" fill="#333" direction="rtl" text-anchor="end">یباراف</text>
<text x="124.5" y="35.7" font-family="'Liberation Mono','DejaVu Sans Mono',monospace" font-size="12.7" fill="#333" textLength="21.0" lengthAdjust="spacingAndGlyphs" xml:space="preserve">, D</text>
<text x="151.3" y="35.7" font-family="'Liberation Mono','DejaVu Sans Mono',monospace" font-size="12.7" fill="#333" textLength="63.0" lengthAdjust="spacingAndGlyphs" xml:space="preserve">O:4604.00</text>
<text x="219" y="35.7" font-family="'Liberation Mono','DejaVu Sans Mono',monospace" font-size="12.7" fill="#333" textLength="63.0" lengthAdjust="spacingAndGlyphs" xml:space="preserve">H:4604.00</text>
<text x="287" y="35.7" font-family="'Liberation Mono','DejaVu Sans Mono',monospace" font-size="12.7" fill="#333" textLength="63.0" lengthAdjust="spacingAndGlyphs" xml:space="preserve">L:4604.00</text>
<text x="354.5" y="35.7" font-family="'Liberation Mono','DejaVu Sans Mono',monospace" font-size="12.7" fill="#333" textLength="63.0" lengthAdjust="spacingAndGlyphs" xml:space="preserve">C:4604.00</text>
<text x="15.3" y="66.5" font-family="'Liberation Mono','DejaVu Sans Mono',monospace" font-size="12.7" fill="#333" textLength="28.0" lengthAdjust="spacingAndGlyphs" xml:space="preserve">1D ,</text>
<text transform="translate(43.5,66.8) scale(1,0.82)" font-family="'DejaVu Sans Mono','Liberation Mono',monospace" font-size="11.6" fill="#333" direction="rtl" text-anchor="end">یزاسوراد</text>
<text transform="translate(106.5,66.8) scale(1,0.82)" font-family="'DejaVu Sans Mono','Liberation Mono',monospace" font-size="11.6" fill="#333" direction="rtl" text-anchor="end">یباراف</text>
<text transform="translate(15.6,83.8) scale(0.72,1.6)" font-family="'DejaVu Sans',sans-serif" font-size="9.5" fill="#333" direction="rtl" text-anchor="end">مجح</text>
<text x="15.3" y="100.7" font-family="'Liberation Mono','DejaVu Sans Mono',monospace" font-size="12.7" fill="#333" textLength="126.0" lengthAdjust="spacingAndGlyphs" xml:space="preserve">SuperTrend (10, 3)</text>
<text x="15.3" y="117.7" font-family="'Liberation Mono','DejaVu Sans Mono',monospace" font-size="12.7" fill="#333" textLength="119.0" lengthAdjust="spacingAndGlyphs" xml:space="preserve">MA (25, close, 0)</text>
<text x="15.3" y="134.7" font-family="'Liberation Mono','DejaVu Sans Mono',monospace" font-size="12.7" fill="#333" textLength="168.0" lengthAdjust="spacingAndGlyphs" xml:space="preserve">Ichimoku (9, 26, 52, 26)</text>
<g fill="#131722"><path d="M6 833.7h9v11.1h-4.8v-5.6h-4.2z"/><circle cx="19.2" cy="835.9" r="2.15"/><path d="M22.9 833.7h5.4l-4.6 11.1h-5.4z"/></g>
<text x="33.3" y="844.8" font-family="'Liberation Sans',sans-serif" font-size="15.2" font-weight="bold" fill="#131722" textLength="91.3" lengthAdjust="spacingAndGlyphs">TradingView</text>
</svg>
</body></html>
